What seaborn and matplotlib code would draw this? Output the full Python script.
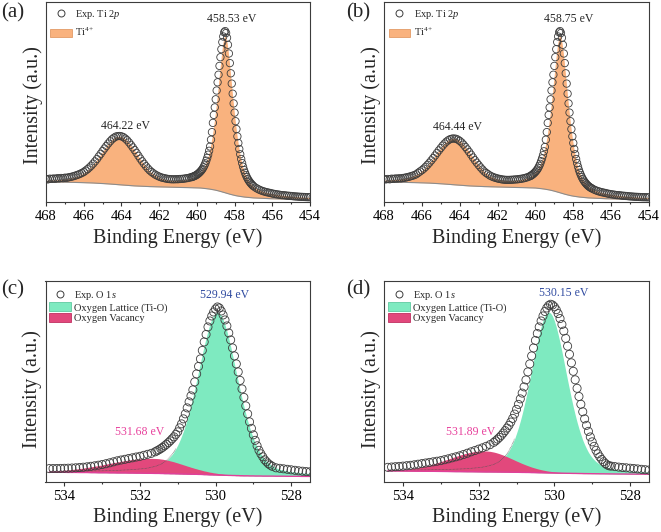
import numpy as np
import matplotlib
matplotlib.use("Agg")
import matplotlib.pyplot as plt
import seaborn as sns
from matplotlib.lines import Line2D
from matplotlib.patches import Patch
from matplotlib.ticker import MultipleLocator

# ---------------- Ti 2p data (binding energy grid shared by panels a, b) ----------------
X_TI = [468.0, 467.9, 467.8, 467.7, 467.6, 467.5, 467.4, 467.3, 467.2, 467.1,
        467.0, 466.9, 466.8, 466.7, 466.6, 466.5, 466.4, 466.3, 466.2, 466.1,
        466.0, 465.9, 465.8, 465.7, 465.6, 465.5, 465.4, 465.3, 465.2, 465.1,
        465.0, 464.9, 464.8, 464.7, 464.6, 464.5, 464.4, 464.3, 464.2, 464.1,
        464.0, 463.9, 463.8, 463.7, 463.6, 463.5, 463.4, 463.3, 463.2, 463.1,
        463.0, 462.9, 462.8, 462.7, 462.6, 462.5, 462.4, 462.3, 462.2, 462.1,
        462.0, 461.9, 461.8, 461.7, 461.6, 461.5, 461.4, 461.3, 461.2, 461.1,
        461.0, 460.9, 460.8, 460.7, 460.6, 460.5, 460.4, 460.3,
        460.25, 460.2, 460.15, 460.1, 460.05, 460.0, 459.95, 459.9, 459.85, 459.8,
        459.75, 459.7, 459.65, 459.6, 459.55, 459.5, 459.45, 459.4, 459.35, 459.3,
        459.25, 459.2, 459.15, 459.1, 459.05, 459.0, 458.95, 458.9, 458.85, 458.8,
        458.75, 458.7, 458.65, 458.6, 458.55, 458.5, 458.45, 458.4, 458.35, 458.3,
        458.25, 458.2, 458.15, 458.1, 458.05, 458.0, 457.95, 457.9, 457.85, 457.8,
        457.75, 457.7, 457.65, 457.6, 457.55, 457.5, 457.45, 457.4, 457.35, 457.3,
        457.25, 457.2, 457.15, 457.1, 457.05, 457.0,
        456.9, 456.8, 456.7, 456.6, 456.5, 456.4, 456.3, 456.2, 456.1, 456.0,
        455.9, 455.8, 455.7, 455.6, 455.5, 455.4, 455.3, 455.2, 455.1, 455.0,
        454.9, 454.8, 454.7, 454.6, 454.5, 454.4, 454.3, 454.2, 454.1, 454.0]

EXP_A = [24.0, 23.6, 24.3, 24.1, 24.5, 24.2, 24.8, 24.6, 25.0, 24.9,
         25.3, 25.2, 25.7, 26.0, 26.5, 27.0, 27.7, 28.3, 29.1, 30.0,
         31.0, 32.4, 33.8, 35.5, 37.3, 39.4, 41.6, 44.0, 46.6, 49.2,
         51.9, 54.5, 57.0, 59.5, 61.7, 63.7, 65.2, 66.4, 66.9, 67.0,
         66.7, 65.9, 64.5, 62.8, 60.6, 58.2, 55.6, 52.9, 50.1, 47.2,
         44.4, 41.7, 39.2, 36.8, 34.6, 32.6, 31.0, 29.6, 28.3, 27.3,
         26.4, 25.7, 25.1, 24.7, 24.3, 24.0, 23.8, 23.7, 23.7, 23.8,
         23.8, 24.0, 24.1, 24.3, 24.6, 24.9, 25.3, 25.8,
         26.0, 26.4, 26.8, 27.2, 27.7, 28.3, 29.0, 29.8, 30.7, 31.7,
         32.8, 34.1, 35.7, 37.6, 39.7, 42.3, 45.1, 48.3, 52.2, 56.5,
         63.3, 70.9, 80.1, 88.1, 95.6, 103.7, 112.5, 120.7, 128.3, 137.1,
         145.8, 153.8, 160.9, 166.5, 170.7, 171.9, 170.0, 165.2, 158.2, 149.5,
         139.9, 129.7, 119.4, 109.3, 99.6, 90.4, 81.8, 73.9, 66.6, 60.0,
         54.0, 48.7, 44.0, 39.9, 36.3, 33.0, 30.3, 28.0, 25.9, 24.1,
         22.5, 21.1, 19.9, 18.8, 17.8, 16.9,
         15.5, 14.4, 13.4, 12.6, 11.9, 11.3, 10.8, 10.4, 10.0, 9.5,
         9.1, 8.8, 8.5, 8.2, 7.9, 7.8, 7.6, 7.3, 7.2, 7.0,
         6.8, 6.6, 6.5, 6.3, 6.2, 6.1, 6.0, 5.9, 5.8, 5.8]

FIT_A = [22.7, 22.8, 22.9, 23.0, 23.0, 23.1, 23.3, 23.4, 23.6, 23.8,
         24.0, 24.2, 24.5, 24.9, 25.2, 25.8, 26.4, 27.0, 27.9, 28.8,
         29.9, 31.2, 32.7, 34.4, 36.3, 38.4, 40.7, 43.1, 45.8, 48.5,
         51.3, 54.0, 56.5, 59.1, 61.3, 63.3, 64.9, 66.1, 66.6, 66.8,
         66.4, 65.6, 64.2, 62.4, 60.2, 57.7, 55.1, 52.4, 49.6, 46.6,
         43.8, 41.1, 38.6, 36.2, 34.0, 31.9, 30.3, 28.9, 27.5, 26.5,
         25.5, 24.8, 24.2, 23.8, 23.3, 23.0, 22.8, 22.7, 22.6, 22.7,
         22.7, 22.9, 23.0, 23.1, 23.5, 23.8, 24.3, 24.8,
         24.8, 25.2, 25.7, 26.1, 26.7, 27.3, 28.0, 28.8, 29.7, 30.7,
         31.8, 33.2, 34.7, 36.6, 38.6, 41.0, 43.8, 47.0, 50.8, 55.1,
         59.9, 65.3, 71.3, 78.1, 85.4, 93.2, 101.8, 110.7, 120.0, 129.5,
         138.9, 147.6, 155.5, 161.9, 165.9, 167.1, 165.2, 160.6, 153.8, 145.3,
         136.0, 126.1, 116.1, 106.3, 96.9, 87.9, 79.6, 71.9, 64.8, 58.4,
         52.6, 47.5, 42.9, 38.9, 35.4, 32.2, 29.6, 27.4, 25.3, 23.6,
         22.0, 20.7, 19.5, 18.4, 17.4, 16.6,
         15.2, 14.1, 13.2, 12.4, 11.7, 11.1, 10.6, 10.2, 9.8, 9.4,
         9.0, 8.7, 8.4, 8.1, 7.8, 7.7, 7.5, 7.2, 7.1, 6.9,
         6.7, 6.5, 6.4, 6.2, 6.1, 6.0, 5.9, 5.8, 5.7, 5.7]

BG_A = [21.0, 21.0, 21.0, 20.95, 20.9, 20.9, 20.9, 20.85, 20.85, 20.8,
        20.8, 20.75, 20.7, 20.7, 20.65, 20.6, 20.55, 20.5, 20.5, 20.45,
        20.4, 20.3, 20.25, 20.2, 20.1, 20.0, 19.9, 19.8, 19.7, 19.6,
        19.5, 19.35, 19.2, 19.1, 18.95, 18.8, 18.65, 18.5, 18.3, 18.15,
        18.0, 17.85, 17.7, 17.6, 17.45, 17.3, 17.2, 17.1, 17.0, 16.9,
        16.8, 16.7, 16.65, 16.55, 16.5, 16.4, 16.35, 16.3, 16.2, 16.15,
        16.1, 16.05, 16.0, 16.0, 15.95, 15.9, 15.85, 15.8, 15.75, 15.75,
        15.7, 15.65, 15.6, 15.6, 15.55, 15.5, 15.45, 15.4,
        15.35, 15.3, 15.3, 15.25, 15.2, 15.2, 15.15, 15.1, 15.0, 15.0,
        14.9, 14.8, 14.7, 14.6, 14.5, 14.4, 14.25, 14.1, 14.0, 13.85,
        13.7, 13.5, 13.35, 13.2, 13.0, 12.8, 12.55, 12.3, 12.1, 11.85,
        11.6, 11.3, 11.0, 10.8, 10.5, 10.2, 9.9, 9.6, 9.4, 9.1,
        8.8, 8.55, 8.3, 8.05, 7.8, 7.6, 7.4, 7.2, 7.05, 6.9,
        6.7, 6.55, 6.4, 6.3, 6.15, 6.0, 5.9, 5.8, 5.7, 5.6,
        5.5, 5.4, 5.35, 5.25, 5.2, 5.1,
        5.0, 4.9, 4.8, 4.7, 4.6, 4.55, 4.5, 4.4, 4.3, 4.25,
        4.2, 4.15, 4.1, 4.05, 4.0, 4.0, 3.95, 3.9, 3.9, 3.85,
        3.8, 3.8, 3.75, 3.7, 3.7, 3.65, 3.65, 3.6, 3.6, 3.6]

EXP_B = [23.8, 23.6, 24.0, 23.7, 24.3, 24.1, 24.5, 24.4,
         24.7, 24.6, 25.0, 25.3, 25.7, 26.1, 26.7, 27.2, 27.9, 28.7,
         30.1, 31.5, 32.8, 34.4, 36.2, 38.2, 40.3, 42.6, 45.0, 47.5,
         50.1, 52.6, 55.0, 57.4, 59.5, 61.4, 62.8, 63.9, 64.4, 64.5,
         64.2, 63.4, 62.1, 60.5, 58.4, 56.1, 53.6, 51.0, 48.3, 45.5,
         42.8, 40.3, 37.9, 35.6, 33.5, 31.5, 30.0, 28.7, 27.4, 26.5,
         25.7, 25.1, 24.5, 24.1, 23.7, 23.4, 23.2, 23.1, 23.1, 23.2,
         23.3, 23.5, 23.6, 23.8, 24.1, 24.4, 24.8, 25.3, 25.9, 26.7,
         27.2, 27.8, 28.5, 29.3, 30.2, 31.2, 32.3, 33.6, 35.2, 37.1,
         39.2, 41.8, 44.6, 47.8, 51.7, 56.0,
         63.3, 70.9, 80.1, 88.1, 95.6, 103.7, 112.5, 120.7, 128.3, 137.1,
         145.8, 153.8, 160.9, 166.5, 170.7, 171.9, 170.0, 165.2, 158.2, 149.5,
         139.9, 129.7, 119.4, 109.3, 99.6, 90.4, 81.8, 73.9, 66.6, 60.0,
         54.0, 48.7, 44.0, 39.9, 36.3, 33.0, 30.3, 28.0, 25.9, 24.1,
         22.5, 21.1, 19.9, 18.8, 17.8, 16.9, 16.2, 15.5, 14.9, 14.4,
         13.4, 12.6, 11.9, 11.3, 10.8, 10.4, 10.0, 9.5, 9.1, 8.8,
         8.5, 8.2, 7.9, 7.8, 7.6, 7.3, 7.2, 7.0, 6.8, 6.6,
         6.5, 6.3, 6.2, 6.1, 6.0, 5.9, 5.8, 5.8, 5.7, 5.7]

FIT_B = [22.9, 23.0, 23.0, 23.1, 23.3, 23.4, 23.6, 23.8,
         23.9, 24.1, 24.4, 24.8, 25.0, 25.6, 26.2, 26.8, 27.6, 28.5,
         29.5, 30.8, 32.2, 33.8, 35.6, 37.7, 39.9, 42.2, 44.7, 47.3,
         50.0, 52.6, 55.0, 57.5, 59.6, 61.5, 63.0, 64.1, 64.6, 64.8,
         64.4, 63.6, 62.3, 60.6, 58.5, 56.1, 53.6, 51.0, 48.3, 45.4,
         42.7, 40.2, 37.8, 35.5, 33.4, 31.3, 29.8, 28.5, 27.1, 26.2,
         25.2, 24.6, 24.0, 23.6, 23.1, 22.9, 22.7, 22.6, 22.5, 22.6,
         22.7, 22.9, 23.0, 23.1, 23.5, 23.8, 24.3, 24.8, 25.2, 26.1,
         26.7, 27.3, 28.0, 28.8, 29.7, 30.7,
         31.8, 33.2, 34.7, 36.6, 38.6, 41.0, 43.8, 47.0, 50.8, 55.1,
         59.9, 65.3, 71.3, 78.1, 85.4, 93.2, 101.8, 110.7, 120.0, 129.5,
         138.9, 147.6, 155.5, 161.9, 165.9, 167.1, 165.2, 160.6, 153.8, 145.3,
         136.0, 126.1, 116.1, 106.3, 96.9, 87.9, 79.6, 71.9, 64.8, 58.4,
         52.6, 47.5, 42.9, 38.9, 35.4, 32.2, 29.6, 27.4, 25.3, 23.6,
         22.0, 20.7, 19.5, 18.4, 17.4, 16.6, 15.8, 15.2, 14.6, 14.1,
         13.2, 12.4, 11.7, 11.1, 10.6, 10.2, 9.8, 9.4, 9.0, 8.7,
         8.4, 8.1, 7.8, 7.7, 7.5, 7.2, 7.1, 6.9, 6.7, 6.5,
         6.4, 6.2, 6.1, 6.0, 5.9, 5.8, 5.7, 5.7, 5.6, 5.6]

BG_B = [21.0, 20.95, 20.9, 20.9, 20.9, 20.85, 20.85, 20.8,
        20.8, 20.75, 20.7, 20.7, 20.65, 20.6, 20.55, 20.5, 20.5, 20.45,
        20.4, 20.3, 20.25, 20.2, 20.1, 20.0, 19.9, 19.8, 19.7, 19.6,
        19.5, 19.35, 19.2, 19.1, 18.95, 18.8, 18.65, 18.5, 18.3, 18.15,
        18.0, 17.85, 17.7, 17.6, 17.45, 17.3, 17.2, 17.1, 17.0, 16.9,
        16.8, 16.7, 16.65, 16.55, 16.5, 16.4, 16.35, 16.3, 16.2, 16.15,
        16.1, 16.05, 16.0, 16.0, 15.95, 15.9, 15.85, 15.8, 15.75, 15.75,
        15.7, 15.65, 15.6, 15.6, 15.55, 15.5, 15.45, 15.4, 15.3, 15.25,
        15.2, 15.2, 15.15, 15.1, 15.0, 15.0,
        14.9, 14.8, 14.7, 14.6, 14.5, 14.4, 14.25, 14.1, 14.0, 13.85,
        13.7, 13.5, 13.35, 13.2, 13.0, 12.8, 12.55, 12.3, 12.1, 11.85,
        11.6, 11.3, 11.0, 10.8, 10.5, 10.2, 9.9, 9.6, 9.4, 9.1,
        8.8, 8.55, 8.3, 8.05, 7.8, 7.6, 7.4, 7.2, 7.05, 6.9,
        6.7, 6.55, 6.4, 6.3, 6.15, 6.0, 5.9, 5.8, 5.7, 5.6,
        5.5, 5.4, 5.35, 5.25, 5.2, 5.1, 5.05, 5.0, 4.95, 4.9,
        4.8, 4.7, 4.6, 4.55, 4.5, 4.4, 4.3, 4.25, 4.2, 4.15,
        4.1, 4.05, 4.0, 4.0, 3.95, 3.9, 3.9, 3.85, 3.8, 3.8,
        3.75, 3.7, 3.7, 3.65, 3.65, 3.6, 3.6, 3.6, 3.6, 3.6]

# ---------------- O 1s data (grid shared by panels c, d) ----------------
X_O = [534.4, 534.3, 534.2, 534.1, 534.0, 533.9, 533.8, 533.7, 533.6, 533.5,
       533.4, 533.3, 533.2, 533.1, 533.0, 532.9, 532.8, 532.7, 532.6, 532.5,
       532.4, 532.3, 532.2, 532.1, 532.0, 531.9, 531.8, 531.7, 531.6,
       531.55, 531.5, 531.45, 531.4, 531.35, 531.3, 531.25, 531.2, 531.15, 531.1,
       531.05, 531.0, 530.95, 530.9, 530.85, 530.8, 530.75, 530.7, 530.65, 530.6,
       530.55, 530.5, 530.45, 530.4, 530.35, 530.3, 530.25, 530.2, 530.15, 530.1,
       530.05, 530.0, 529.95, 529.9, 529.85, 529.8, 529.75, 529.7, 529.65, 529.6,
       529.55, 529.5, 529.45, 529.4, 529.35, 529.3, 529.25, 529.2, 529.15, 529.1,
       529.05, 529.0, 528.95, 528.9, 528.85, 528.8, 528.75, 528.7, 528.65, 528.6,
       528.55, 528.5,
       528.4, 528.3, 528.2, 528.1, 528.0, 527.9, 527.8, 527.7, 527.6, 527.5]

EXP_C = [13.2, 13.3, 13.3, 13.4, 13.5, 13.6, 13.8, 14.0, 14.3, 14.6,
         15.0, 15.5, 16.0, 16.6, 17.3, 18.1, 19.0, 20.0, 21.0, 21.8,
         22.5, 23.3, 24.0, 24.8, 25.5, 26.5, 27.5, 28.5, 30.0,
         31.0, 32.0, 33.2, 34.5, 36.0, 37.5, 39.2, 41.0, 43.0, 45.0,
         47.5, 50.0, 54.0, 58.0, 63.0, 68.0, 74.0, 80.0, 86.0, 92.0,
         100.0, 108.0, 115.5, 123.0, 131.5, 140.0, 147.5, 155.0, 161.0, 166.0,
         170.0, 173.0, 175.0, 174.0, 171.0, 167.0, 162.0, 156.0, 149.0, 142.0,
         134.0, 126.0, 118.0, 110.0, 101.5, 93.0, 84.5, 76.0, 68.0, 60.0,
         53.5, 47.0, 41.5, 36.0, 31.5, 28.0, 25.0, 22.0, 20.0, 18.0,
         16.7, 15.5,
         14.0, 13.5, 13.0, 12.5, 12.0, 11.5, 11.0, 10.6, 10.2, 10.0]

LAT_C = [0.93, 0.97, 1.02, 1.07, 1.12, 1.17, 1.22, 1.27, 1.37, 1.45,
         1.55, 1.62, 1.72, 1.85, 1.95, 2.05, 2.25, 2.35, 2.5, 2.7,
         2.95, 3.2, 3.45, 3.8, 4.2, 4.6, 5.2, 6.1, 7.0,
         7.7, 8.4, 9.3, 10.4, 11.6, 13.0, 14.8, 17.0, 19.2, 22.0,
         25.3, 28.9, 33.1, 37.8, 43.0, 48.7, 55.1, 62.1, 69.6, 77.4,
         85.7, 94.2, 103.0, 111.8, 120.6, 129.1, 136.9, 144.3, 150.6, 155.8,
         159.7, 162.2, 163.0, 162.2, 159.7, 155.8, 150.6, 144.3, 136.9, 129.1,
         120.6, 111.8, 103.0, 94.2, 85.7, 77.4, 69.6, 62.1, 55.1, 48.7,
         43.0, 37.8, 33.1, 28.9, 25.3, 22.0, 19.2, 17.0, 14.8, 13.0,
         11.6, 10.4,
         8.4, 7.0, 6.1, 5.2, 4.6, 4.2, 3.8, 3.45, 3.2, 2.95]

VAC_C = [1.03, 1.25, 1.50, 1.79, 2.13, 2.50, 2.92, 3.39, 3.90, 4.47,
         5.07, 5.72, 6.41, 7.13, 7.87, 8.63, 9.39, 10.15, 10.90, 11.61,
         12.29, 12.92, 13.48, 13.96, 14.36, 14.67, 14.88, 14.99, 14.97,
         14.88, 14.74, 14.55, 14.30, 14.00, 13.65, 13.27, 12.84, 12.38, 11.89,
         11.38, 10.84, 10.30, 9.74, 9.18, 8.61, 8.05, 7.50, 6.96, 6.43,
         5.92, 5.43, 4.96, 4.52, 4.10, 3.70, 3.33, 2.99, 2.66, 2.37,
         2.10, 1.85, 1.63, 1.43, 1.25, 1.08, 0.94, 0.81, 0.69, 0.60,
         0.51, 0.43, 0.36, 0.31, 0.26, 0.22, 0.18, 0.15, 0.12, 0.10,
         0.08, 0.07, 0.06, 0.05, 0.04, 0.03, 0.03, 0.02, 0.02, 0.02,
         0.01, 0.01,
         0.0, 0.0, 0.0, 0.0, 0.0, 0.0, 0.0, 0.0, 0.0, 0.0]

BG_C = [9.6, 9.6, 9.5, 9.5, 9.5, 9.4, 9.4, 9.4, 9.3, 9.3,
        9.3, 9.2, 9.2, 9.1, 9.1, 9.1, 9.0, 9.0, 8.9, 8.9,
        8.9, 8.8, 8.8, 8.7, 8.7, 8.6, 8.5, 8.5, 8.4,
        8.4, 8.4, 8.3, 8.3, 8.2, 8.2, 8.2, 8.1, 8.1, 8.1,
        8.0, 8.0, 7.9, 7.9, 7.8, 7.8, 7.7, 7.7, 7.6, 7.6,
        7.5, 7.5, 7.4, 7.4, 7.3, 7.2, 7.2, 7.1, 7.0, 7.0,
        6.9, 6.9, 6.8, 6.7, 6.7, 6.6, 6.5, 6.5, 6.4, 6.4,
        6.3, 6.3, 6.2, 6.2, 6.1, 6.1, 6.0, 6.0, 6.0, 5.9,
        5.9, 5.9, 5.8, 5.8, 5.8, 5.8, 5.7, 5.7, 5.7, 5.7,
        5.7, 5.7,
        5.6, 5.6, 5.6, 5.5, 5.5, 5.5, 5.5, 5.4, 5.4, 5.4]

EXP_D = [14.5, 14.8, 15.1, 15.4, 15.7, 16.1, 16.5, 17.0, 17.6, 18.2,
         18.8, 19.4, 20.0, 20.6, 21.2, 22.1, 23.0, 24.0, 25.0, 26.0,
         27.3, 28.6, 30.0, 31.3, 32.7, 34.0, 35.5, 37.2, 39.5,
         41.0, 42.7, 44.5, 46.5, 48.8, 51.2, 53.8, 56.5, 59.8, 63.5,
         67.8, 72.5, 77.5, 83.0, 88.8, 95.0, 102.0, 110.0, 118.0, 126.0,
         134.0, 141.5, 148.5, 155.0, 161.0, 166.0, 170.5, 174.0, 176.5, 177.7,
         177.0, 175.2, 172.3, 168.4, 163.4, 157.5, 150.9, 143.6, 135.8, 127.6,
         119.1, 110.6, 102.1, 93.6, 85.4, 77.6, 70.1, 63.0, 56.5, 50.5,
         44.9, 40.0, 35.5, 31.5, 28.0, 25.0, 22.4, 20.1, 18.2, 16.8,
         16.0, 15.7,
         15.2, 14.7, 14.3, 14.0, 13.6, 13.3, 12.9, 12.5, 12.1, 11.8]

LAT_D = [0.85, 0.9, 0.93, 0.97, 1.0, 1.08, 1.13, 1.2, 1.27, 1.37,
         1.45, 1.56, 1.66, 1.77, 1.9, 2.0, 2.14, 2.25, 2.45, 2.62,
         2.87, 3.1, 3.38, 3.8, 4.2, 4.7, 5.5, 6.4, 7.6,
         8.4, 9.5, 10.8, 12.2, 14.0, 16.1, 18.5, 21.4, 25.0, 29.0,
         33.5, 39.0, 44.8, 51.4, 58.6, 66.5, 74.9, 83.9, 93.1, 102.6,
         112.2, 121.7, 130.6, 138.8, 146.3, 152.5, 157.1, 160.0, 161.0, 160.0,
         157.1, 152.5, 146.3, 138.8, 130.6, 121.7, 112.2, 102.6, 93.1, 83.9,
         74.9, 66.5, 58.6, 51.4, 44.8, 39.0, 33.5, 29.0, 25.0, 21.4,
         18.5, 16.1, 14.0, 12.2, 10.8, 9.5, 8.4, 7.6, 7.0, 6.4,
         6.0, 5.5,
         4.7, 4.2, 3.8, 3.4, 3.1, 2.87, 2.62, 2.45, 2.25, 2.14]

VAC_D = [0.51, 0.67, 0.89, 1.16, 1.49, 1.89, 2.38, 2.95, 3.63, 4.41,
         5.30, 6.30, 7.39, 8.58, 9.84, 11.16, 12.52, 13.88, 15.22, 16.49,
         17.66, 18.70, 19.58, 20.26, 20.73, 20.97, 20.96, 20.60, 19.91,
         19.44, 18.91, 18.31, 17.66, 16.95, 16.21, 15.43, 14.63, 13.81, 12.97,
         12.14, 11.31, 10.50, 9.70, 8.92, 8.17, 7.46, 6.77, 6.12, 5.51,
         4.94, 4.41, 3.92, 3.47, 3.06, 2.69, 2.35, 2.04, 1.77, 1.53,
         1.31, 1.12, 0.96, 0.81, 0.68, 0.58, 0.48, 0.40, 0.33, 0.28,
         0.23, 0.19, 0.15, 0.12, 0.10, 0.08, 0.06, 0.05, 0.04, 0.03,
         0.03, 0.02, 0.02, 0.01, 0.01, 0.01, 0.01, 0.0, 0.0, 0.0,
         0.0, 0.0,
         0.0, 0.0, 0.0, 0.0, 0.0, 0.0, 0.0, 0.0, 0.0, 0.0]

BG_D = [11.0, 10.95, 10.9, 10.85, 10.8, 10.75, 10.7, 10.65, 10.6, 10.6,
        10.55, 10.5, 10.5, 10.45, 10.4, 10.35, 10.3, 10.25, 10.2, 10.2,
        10.15, 10.1, 10.1, 10.05, 10.0, 9.95, 9.9, 9.9, 9.85,
        9.85, 9.8, 9.8, 9.75, 9.75, 9.7, 9.7, 9.65, 9.6, 9.6,
        9.55, 9.5, 9.5, 9.45, 9.4, 9.4, 9.35, 9.35, 9.3, 9.25,
        9.25, 9.2, 9.15, 9.1, 9.1, 9.05, 9.0, 8.95, 8.9, 8.9,
        8.85, 8.8, 8.75, 8.7, 8.7, 8.65, 8.6, 8.55, 8.5, 8.5,
        8.45, 8.4, 8.4, 8.35, 8.3, 8.3, 8.25, 8.2, 8.2, 8.15,
        8.15, 8.1, 8.1, 8.05, 8.05, 8.0, 8.0, 8.0, 7.95, 7.95,
        7.9, 7.9,
        7.85, 7.8, 7.8, 7.75, 7.7, 7.7, 7.65, 7.65, 7.6, 7.6]

PEAK_LABELS = {"a": ["458.53 eV", "464.22 eV"], "b": ["458.75 eV", "464.44 eV"],
               "c": ["529.94 eV", "531.68 eV"], "d": ["530.15 eV", "531.89 eV"]}

# ---------------- styling ----------------
sns.set_theme(style="white")
plt.rcParams["font.family"] = ["Liberation Serif", "DejaVu Serif"]
plt.rcParams["mathtext.fontset"] = "custom"
plt.rcParams["mathtext.rm"] = "Liberation Serif"
plt.rcParams["mathtext.it"] = "Liberation Serif:italic"

ORANGE = "#F9B27E"
GREEN = "#7EEAC0"
PINK = "#E2487C"
CIRCLE = "#3d3d3d"
BLUE_TXT = "#2F4AA0"
PINK_TXT = "#E8409C"

fig = plt.figure(figsize=(6.61, 5.32), dpi=100)
W, H = 661.0, 532.0


def make_ax(left, right, top, bottom):
    return fig.add_axes([left / W, 1 - bottom / H, (right - left) / W, (bottom - top) / H])


ax_a = make_ax(46, 310, 2, 202)
ax_b = make_ax(384, 649, 2, 202)
ax_c = make_ax(45.5, 310, 281, 481.5)
ax_d = make_ax(384, 649, 281, 481.5)


def style(ax, xlim, ylim, minor, ylab_y):
    ax.set_xlim(*xlim)
    ax.set_ylim(*ylim)
    ax.xaxis.set_major_locator(MultipleLocator(2))
    ax.xaxis.set_minor_locator(MultipleLocator(minor))
    ax.set_yticks([])
    ax.tick_params(axis="x", which="major", bottom=True, direction="out", length=2.6,
                   width=0.8, pad=3.2, labelsize=10.5, color="#333333", labelcolor="black")
    ax.tick_params(axis="x", which="minor", bottom=True, direction="out", length=1.6,
                   width=0.8, color="#333333")
    for sp in ax.spines.values():
        sp.set_color("#3c3c3c")
        sp.set_linewidth(0.8)
    ax.set_xlabel("Binding Energy (eV)", fontsize=14.5)
    ax.xaxis.set_label_coords(0.5, -0.13)
    ax.set_ylabel("Intensity (a.u.)", fontsize=14.5)
    ax.yaxis.set_label_coords(-0.012, ylab_y)


def scatter(ax, x, y, s):
    sns.scatterplot(x=x, y=y, ax=ax, marker="o", s=s, edgecolor=CIRCLE,
                    linewidth=0.6, legend=False, zorder=4)
    ax.collections[-1].set_facecolor("none")


def ti_panel(ax, exp, fit, bg, labels, pos1, pos2):
    x = np.array(X_TI)
    ax.fill_between(x, bg, fit, color=ORANGE, linewidth=0, zorder=2)
    ax.plot(x, bg, color="#8c8c8c", lw=0.8, zorder=2.5)
    scatter(ax, X_TI, exp, 28)
    style(ax, (468, 454), (1, 201), 1, 0.485)
    ax.text(pos1[0], pos1[1], labels[0], fontsize=8.5, ha="center", va="center")
    ax.text(pos2[0], pos2[1], labels[1], fontsize=8.5, ha="center", va="center")
    handles = [Line2D([], [], marker="o", ls="none", markersize=5, markerfacecolor="none",
                      markeredgecolor=CIRCLE, markeredgewidth=0.7),
               Patch(facecolor=ORANGE, edgecolor="#E39A66", linewidth=0.6)]
    ax.legend(handles, ["Exp. Ti $\\mathit{2p}$", "Ti$^{4+}$"], loc="upper left",
              bbox_to_anchor=(0.017, 0.968), frameon=False, fontsize=7.5,
              handlelength=2.1, handleheight=0.9, handletextpad=0.3,
              labelspacing=0.45, borderpad=0, borderaxespad=0)


def o_panel(ax, exp, lat, vac, bg, labels, pos1, pos2):
    x = np.array(X_O)
    bg = np.array(bg)
    lat_top = bg + np.array(lat)
    vac_top = bg + np.array(vac)
    ax.fill_between(x, bg, lat_top, color=GREEN, linewidth=0, zorder=2)
    ax.fill_between(x, bg, vac_top, color=PINK, linewidth=0, zorder=2.2)
    ax.plot(x[:40], lat_top[:40], color="#555555", lw=0.5, ls=(0, (1, 1)), zorder=2.3)
    ax.plot(x, bg, color="#E0409A", lw=1.0, zorder=2.4)
    scatter(ax, X_O, exp, 34)
    style(ax, (534.5, 527.5), (0.3, 201), 1, 0.46)
    ax.text(pos1[0], pos1[1], labels[0], fontsize=8.5, ha="center", va="center", color=BLUE_TXT)
    ax.text(pos2[0], pos2[1], labels[1], fontsize=8.5, ha="center", va="center", color=PINK_TXT)
    handles = [Line2D([], [], marker="o", ls="none", markersize=5, markerfacecolor="none",
                      markeredgecolor=CIRCLE, markeredgewidth=0.7),
               Patch(facecolor=GREEN, edgecolor="#5FC9A0", linewidth=0.6),
               Patch(facecolor=PINK, edgecolor="#C03060", linewidth=0.6)]
    ax.legend(handles, ["Exp. O $\\mathit{1s}$", "Oxygen Lattice (Ti-O)", "Oxygen Vacancy"],
              loc="upper left", bbox_to_anchor=(0.014, 0.962), frameon=False, fontsize=7.5,
              handlelength=2.1, handleheight=0.9, handletextpad=0.3,
              labelspacing=0.08, borderpad=0, borderaxespad=0)


ti_panel(ax_a, EXP_A, FIT_A, BG_A, PEAK_LABELS["a"], (458.14, 184), (463.81, 77))
ti_panel(ax_b, EXP_B, FIT_B, BG_B, PEAK_LABELS["b"], (458.23, 184), (464.10, 76))
o_panel(ax_c, EXP_C, LAT_C, VAC_C, BG_C, PEAK_LABELS["c"], (529.75, 187), (532.0, 50))
o_panel(ax_d, EXP_D, LAT_D, VAC_D, BG_D, PEAK_LABELS["d"], (529.75, 189), (532.21, 50))

for lab, (px, py) in zip(["(a)", "(b)", "(c)", "(d)"],
                         [(13, 12.5), (358.5, 12.5), (13, 289.6), (358.5, 290)]):
    fig.text(px / W, 1 - py / H, lab, fontsize=15, ha="center", va="center")

fig.savefig("out.png", dpi=100)
